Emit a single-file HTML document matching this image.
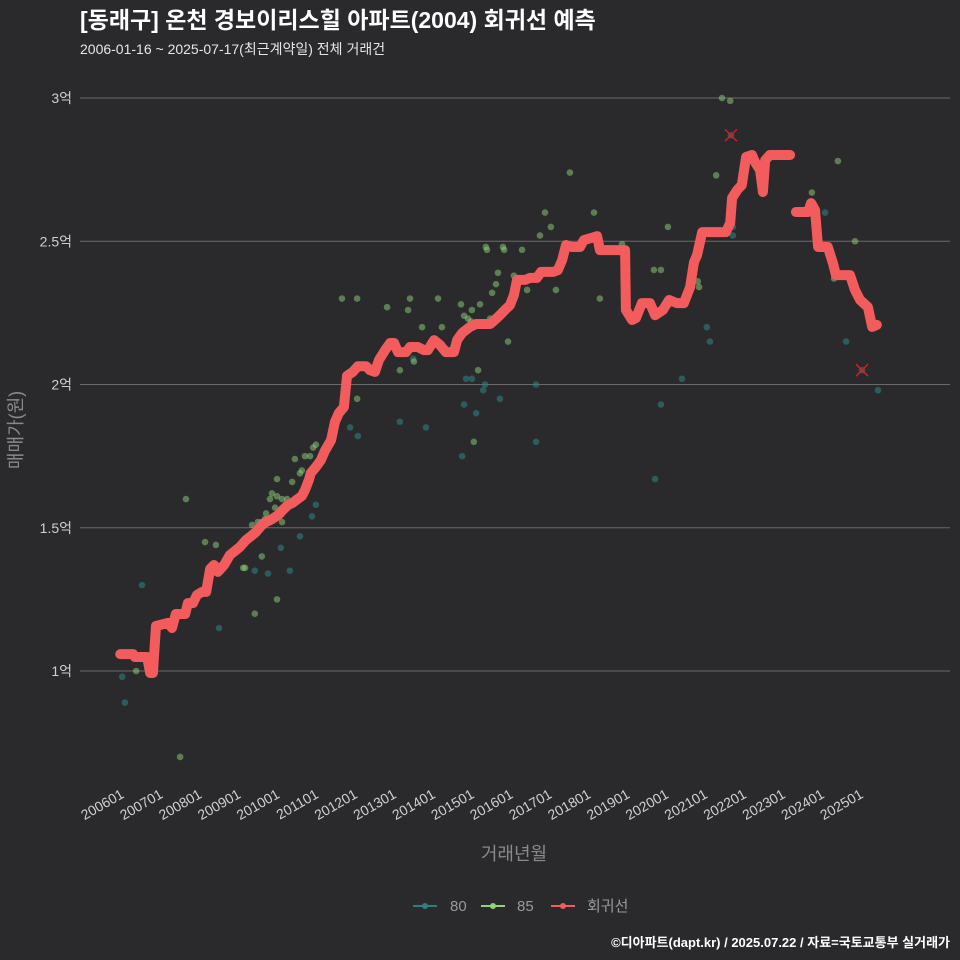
<!DOCTYPE html>
<html><head><meta charset="utf-8">
<style>
html,body{margin:0;padding:0;background:#2a292c;}
body{width:960px;height:960px;overflow:hidden;font-family:"Liberation Sans","Noto Sans CJK KR",sans-serif;}
</style></head>
<body>
<svg id="chart" width="960" height="960" xmlns="http://www.w3.org/2000/svg" style="display:block;background:#2a292c">
<text x="80" y="28" fill="#ffffff" font-size="23" font-weight="bold" font-family="Liberation Sans, Noto Sans CJK KR, sans-serif">[동래구] 온천 경보이리스힐 아파트(2004) 회귀선 예측</text>
<text x="80" y="54" fill="#e6e6e6" font-size="14" font-family="Liberation Sans, Noto Sans CJK KR, sans-serif">2006-01-16 ~ 2025-07-17(최근계약일) 전체 거래건</text>
<g id="grid"></g><g id="yticks"></g><g id="xticks"></g>
<g id="points"></g><g id="line"></g><g id="marks"></g>
<text x="514" y="860" fill="#8a8a8a" font-size="18" text-anchor="middle" font-family="Liberation Sans, Noto Sans CJK KR, sans-serif">거래년월</text>
<text transform="translate(22,430) rotate(-90)" fill="#8a8a8a" font-size="18" text-anchor="middle" font-family="Liberation Sans, Noto Sans CJK KR, sans-serif">매매가(원)</text>
<g font-size="15" fill="#9a9a9a" font-family="Liberation Sans, Noto Sans CJK KR, sans-serif">
 <g><line x1="413" y1="906" x2="437" y2="906" stroke="#2c8080" stroke-width="2"/><circle cx="425" cy="906" r="3" fill="#2c8080"/><text x="450" y="911">80</text></g>
 <g><line x1="481" y1="906" x2="505" y2="906" stroke="#8fd47a" stroke-width="2"/><circle cx="493" cy="906" r="3" fill="#8fd47a"/><text x="517" y="911">85</text></g>
 <g><line x1="551" y1="906" x2="575" y2="906" stroke="#f25c5c" stroke-width="2"/><circle cx="563" cy="906" r="3" fill="#f25c5c"/><text x="587" y="911">회귀선</text></g>
</g>
<text x="950" y="947" fill="#ffffff" font-size="13" font-weight="bold" text-anchor="end" font-family="Liberation Sans, Noto Sans CJK KR, sans-serif">©디아파트(dapt.kr) / 2025.07.22 / 자료=국토교통부 실거래가</text>
</svg>
<script>
const yTickValues = [10000, 15000, 20000, 25000, 30000];
const yTickLabels = ["1억", "1.5억", "2억", "2.5억", "3억"];
const xTickYears = [2006,2007,2008,2009,2010,2011,2012,2013,2014,2015,2016,2017,2018,2019,2020,2021,2022,2023,2024,2025];
const xTickLabels = ["200601","200701","200801","200901","201001","201101","201201","201301","201401","201501","201601","201701","201801","201901","202001","202101","202201","202301","202401","202501"];

const lineX = [2005.98,2006.31,2006.36,2006.67,2006.75,2006.82,2006.90,2007.21,2007.31,2007.41,2007.65,2007.72,2007.85,2007.95,2008.08,2008.19,2008.29,2008.39,2008.49,2008.65,2008.80,2008.96,2009.06,2009.21,2009.32,2009.47,2009.60,2009.73,2009.88,2010.04,2010.16,2010.29,2010.40,2010.65,2010.73,2010.83,2010.88,2011.01,2011.14,2011.24,2011.40,2011.50,2011.60,2011.73,2011.81,2011.96,2012.09,2012.30,2012.40,2012.53,2012.63,2012.79,2012.92,2013.02,2013.12,2013.33,2013.43,2013.63,2013.79,2013.89,2014.05,2014.20,2014.35,2014.56,2014.64,2014.77,2014.97,2015.13,2015.49,2015.61,2015.74,2015.87,2016.00,2016.10,2016.18,2016.39,2016.51,2016.69,2016.80,2017.11,2017.23,2017.34,2017.44,2017.59,2017.80,2017.90,2018.08,2018.24,2018.31,2018.96,2018.98,2019.14,2019.24,2019.39,2019.60,2019.73,2019.93,2020.09,2020.29,2020.47,2020.63,2020.73,2020.81,2020.94,2021.55,2021.66,2021.71,2021.84,2021.96,2022.07,2022.22,2022.30,2022.43,2022.50,2022.56,2022.68,2023.20,null,2023.35,2023.66,2023.74,2023.84,2023.92,2024.17,2024.30,2024.38,2024.74,2024.87,2025.00,2025.20,2025.31,2025.43];
const lineY = [10590,10590,10490,10490,9930,9930,11570,11680,11500,11990,11990,12370,12370,12650,12760,12760,13560,13700,13460,13700,14050,14220,14330,14570,14680,14850,15060,15200,15300,15440,15620,15790,15860,16110,16320,16670,16910,17120,17360,17680,18060,18690,19000,19210,20300,20440,20640,20640,20500,20440,20850,21200,21450,21450,21130,21130,21310,21310,21200,21200,21550,21380,21130,21130,21550,21800,22010,22110,22110,22250,22420,22600,22770,23120,23650,23650,23720,23720,23930,23930,23990,24340,24870,24800,24800,25040,25110,25180,24690,24690,22600,22250,22320,22840,22840,22420,22600,22950,22840,22840,23400,24270,24520,25320,25320,25640,26510,26790,26960,27940,28010,27760,27480,26720,27830,28010,28010,null,26020,26020,26330,26090,24800,24800,24240,23820,23820,23300,22950,22700,22010,22080];

const s80X = [2006.03,2006.10,2006.54,2008.52,2009.44,2009.78,2010.11,2010.34,2010.60,2010.91,2011.01,2011.89,2012.09,2013.17,2013.51,2013.84,2014.77,2014.82,2014.87,2015.02,2015.13,2015.31,2015.36,2015.74,2016.67,2016.67,2019.73,2019.88,2020.42,2021.06,2021.14,2021.73,2021.73,2024.10,2024.64,2025.05,2025.46,2021.68];
const s80Y = [9800,8900,13000,11500,13500,13400,14300,13500,14700,15400,15800,18500,18200,18700,20900,18500,17500,19300,20200,20200,19000,19800,20000,19500,18000,20000,16700,19300,20200,22000,21500,25500,25200,26000,21500,20500,19800,28700];
const s85X = [2007.67,2006.39,2007.52,2008.16,2008.44,2009.37,2009.44,2009.52,2009.62,2009.70,2009.73,2009.83,2009.88,2009.96,2010.01,2010.01,2010.14,2010.27,2010.40,2010.47,2010.60,2010.65,2010.73,2010.86,2010.94,2011.01,2009.14,2009.19,2009.62,2010.01,2010.14,2011.68,2012.07,2012.07,2012.84,2013.17,2013.38,2013.43,2013.53,2013.74,2014.15,2014.25,2014.74,2014.82,2014.92,2015.00,2015.02,2015.07,2015.18,2015.23,2015.38,2015.41,2015.49,2015.54,2015.64,2015.69,2015.82,2015.85,2015.95,2016.10,2016.31,2016.44,2016.77,2016.90,2017.05,2017.18,2017.54,2018.16,2018.31,2018.88,2019.70,2019.88,2020.06,2020.83,2020.86,2021.30,2021.45,2021.66,2023.76,2024.43,2024.33,2024.87];
const s85Y = [16000,10000,7000,14500,14400,15100,12000,15200,15200,15300,15500,16000,16200,15700,16100,16700,16000,16000,16600,17400,16900,17000,17500,17500,17800,17900,13600,13600,14000,12500,15200,23000,23000,19500,22700,20500,22600,23000,20800,22000,23000,22000,22800,22400,22300,22200,22600,18000,20500,22800,24800,24700,22300,23200,23500,23900,24800,24700,21500,23800,24700,23300,25200,26000,25500,23300,27400,26000,23000,24900,24000,24000,25500,23600,23400,27300,30000,29900,26700,27800,23700,25000];
const outlierX = [2021.68, 2025.05];
const outlierY = [28700, 20500];

const NS = "http://www.w3.org/2000/svg";
function xs(yr){ return 121 + (yr - 2006) * 38.9; }
function ys(v){ return 671 - (v - 10000) * 286.5 / 10000; }
function mk(tag, attrs, parent){ const e=document.createElementNS(NS,tag); for(const k in attrs) e.setAttribute(k, attrs[k]); parent.appendChild(e); return e; }

const grid=document.getElementById('grid'), yt=document.getElementById('yticks'), xt=document.getElementById('xticks');
yTickValues.forEach((v,i)=>{
  const l=mk('line',{x1:80,x2:950,y1:ys(v),y2:ys(v),stroke:'#6a6a6a','stroke-width':1},grid);
  
  
  const t=mk('text',{x:72,y:ys(v)+5,fill:'#d0d0d0','font-size':14,'text-anchor':'end','font-family':'Liberation Sans, Noto Sans CJK KR, sans-serif'},yt);
  t.textContent=yTickLabels[i];
  
  
});
xTickYears.forEach((yr,i)=>{
  const x=xs(yr);
  const t=mk('text',{transform:`translate(${x+4},${797}) rotate(-30)`,fill:'#d0d0d0','font-size':14,'text-anchor':'end','font-family':'Liberation Sans, sans-serif'},xt);
  t.textContent=xTickLabels[i];
  
  
});
const pts=document.getElementById('points');
s80X.forEach((x,i)=>{
  const c=mk('circle',{cx:xs(x),cy:ys(s80Y[i]),r:3.3,fill:'#2c8080','fill-opacity':0.6},pts);
  
  
});
s85X.forEach((x,i)=>{
  const c=mk('circle',{cx:xs(x),cy:ys(s85Y[i]),r:3.3,fill:'#8fd47a','fill-opacity':0.5},pts);
  
  
});
let d='', start=true;
lineX.forEach((x,i)=>{
  if(x===null){ start=true; return; }
  d += (start?'M':'L') + xs(x).toFixed(1) + ',' + ys(lineY[i]).toFixed(1) + ' ';
  start=false;
});
const p=mk('path',{d:d,fill:'none',stroke:'#f25c5c','stroke-width':10,'stroke-linejoin':'round','stroke-linecap':'round'},document.getElementById('line'));


const marks=document.getElementById('marks');
outlierX.forEach((x,i)=>{
  const cx=xs(x), cy=ys(outlierY[i]);
  const g=mk('g',{stroke:'#d02020','stroke-width':1.5},marks);
  
  
  mk('line',{x1:cx-6,y1:cy-6,x2:cx+6,y2:cy+6},g);
  mk('line',{x1:cx-6,y1:cy+6,x2:cx+6,y2:cy-6},g);
});
</script>
</body></html>
